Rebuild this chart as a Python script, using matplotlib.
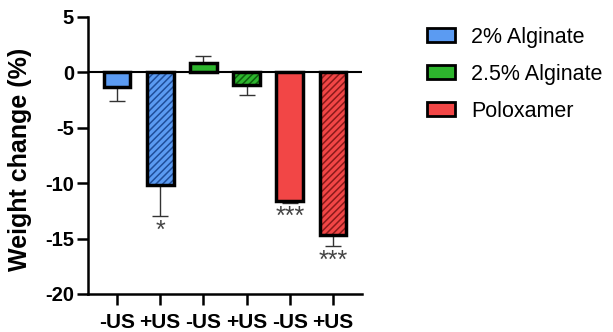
import matplotlib
matplotlib.use("Agg")
import matplotlib.pyplot as plt
from matplotlib.patches import Patch
import numpy as np

plt.rcParams['font.family'] = ['Liberation Sans', 'DejaVu Sans']
plt.rcParams['axes.unicode_minus'] = False

tick_labels = ["-US", "+US", "-US", "+US", "-US", "+US"]
values = [-1.3, -10.2, 0.85, -1.15, -11.6, -14.7]
errors = [1.3, 2.8, 0.6, 0.85, 0.2, 1.0]
groups = ["2% Alginate", "2% Alginate", "2.5% Alginate", "2.5% Alginate", "Poloxamer", "Poloxamer"]
hatched = [False, True, False, True, False, True]
stars = ["", "*", "", "", "***", "***"]
legend_labels = ["2% Alginate", "2.5% Alginate", "Poloxamer"]

fill = {"2% Alginate": "#5B9BF2", "2.5% Alginate": "#2DB52D", "Poloxamer": "#F24646"}
hatch_col = {"2% Alginate": "#1F4E9A", "2.5% Alginate": "#0E5E0E", "Poloxamer": "#8A1A1A"}

fig = plt.figure(figsize=(6.13, 3.32), dpi=100)
ax = fig.add_axes([0.1436, 0.1145, 0.4470, 0.8345])

x = np.arange(len(values))
w = 0.62
plt.rcParams['hatch.linewidth'] = 1.1
for xi, v, e, g, h, s in zip(x, values, errors, groups, hatched, stars):
    ax.bar(xi, v, width=w, color=fill[g], edgecolor=hatch_col[g], linewidth=0,
           hatch='/////' if h else None, zorder=2)
    ax.bar(xi, v, width=w, color='none', edgecolor='black', linewidth=2.5, zorder=3)
    yerr = [[0], [e]] if v >= 0 else [[e], [0]]
    ax.errorbar(xi, v, yerr=yerr, fmt='none', ecolor='#333333', elinewidth=1.0,
                capsize=6, capthick=1.0, zorder=1)
    if s:
        ax.text(xi, v - e - 0.2, s, ha='center', va='top', fontsize=18, color='#444444')

ax.axhline(0, color='black', linewidth=1.5, zorder=4)
ax.set_xlim(-0.67, 5.67)
ax.set_ylim(-20, 5)
ax.set_yticks([5, 0, -5, -10, -15, -20])
ax.set_xticks(x)
ax.set_xticklabels(tick_labels, fontsize=15, fontweight='bold')
for lab in ax.get_yticklabels():
    lab.set_fontsize(14.5)
    lab.set_fontweight('bold')
ax.set_ylabel("Weight change (%)", fontsize=18, fontweight='bold')
ax.yaxis.set_label_coords(-0.205, 0.485)

ax.spines['top'].set_visible(False)
ax.spines['right'].set_visible(False)
ax.spines['bottom'].set_visible(False)
ax.spines['left'].set_linewidth(1.8)
ax.tick_params(axis='y', width=1.8, length=8, pad=2)
ax.tick_params(axis='x', width=1.8, length=8, pad=6)
ax.plot([-0.67, 5.67], [-20, -20], color='black', linewidth=1.8, clip_on=False, zorder=5)

handles = [Patch(facecolor=fill[g], edgecolor='black', linewidth=2.0) for g in legend_labels]
fig.legend(handles, legend_labels, loc='upper left', bbox_to_anchor=(0.682, 0.946),
           frameon=False, fontsize=15.5, handlelength=1.3, handleheight=0.6,
           labelspacing=0.75, handletextpad=0.75, borderaxespad=0)

fig.savefig("out.png", dpi=100)
